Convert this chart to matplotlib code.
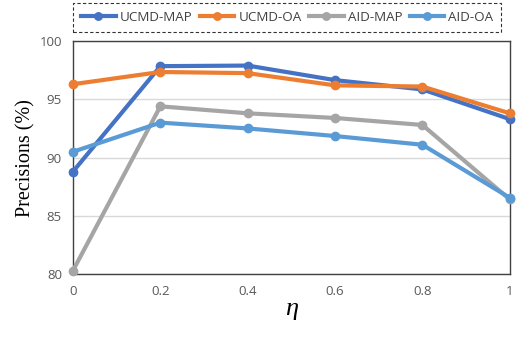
import matplotlib
matplotlib.use("Agg")
import matplotlib.pyplot as plt

eta = [0, 0.2, 0.4, 0.6, 0.8, 1]
ucmd_map = [88.8, 97.85, 97.9, 96.65, 95.85, 93.3]
ucmd_oa = [96.3, 97.35, 97.25, 96.2, 96.1, 93.8]
aid_map = [80.3, 94.4, 93.8, 93.4, 92.8, 86.4]
aid_oa = [90.5, 93.0, 92.5, 91.85, 91.1, 86.55]
labels = ["UCMD-MAP", "UCMD-OA", "AID-MAP", "AID-OA"]
colors = ["#4472C4", "#ED7D31", "#A5A5A5", "#5B9BD5"]
xticklabels = ["0", "0.2", "0.4", "0.6", "0.8", "1"]

fig = plt.figure(figsize=(5.31, 3.39), dpi=100)
ax = fig.add_axes([0.1375, 0.1917, 0.8225, 0.687])
for ys, lab, c in zip([ucmd_map, ucmd_oa, aid_map, aid_oa], labels, colors):
    ax.plot(eta, ys, color=c, lw=3, marker='o', ms=6, label=lab, clip_on=False, zorder=3)

ax.set_xlim(0, 1)
ax.set_ylim(80, 100)
ax.set_yticks([80, 85, 90, 95, 100])
ax.set_xticks(eta)
ax.set_xticklabels(xticklabels)
ax.grid(axis='y', color='#D9D9D9', lw=1)
ax.set_axisbelow(True)
for s in ax.spines.values():
    s.set_color('#404040')
    s.set_linewidth(1)
ax.tick_params(length=0, labelsize=9.5, labelcolor='#595959', pad=8)
for t in ax.get_xticklabels() + ax.get_yticklabels():
    t.set_family('Open Sans')
ax.set_ylabel("Precisions (%)", family='Liberation Serif', fontsize=14.5, labelpad=3)
ax.set_xlabel("η", family='Liberation Serif', style='italic', fontsize=19, labelpad=0)

leg = fig.legend(loc='upper left', bbox_to_anchor=(73/531, 1 - 3/339), ncol=4,
                 frameon=True, fancybox=False, edgecolor='black',
                 handlelength=2.6, handletextpad=0.3, columnspacing=0.55,
                 prop={'family': 'Open Sans', 'size': 9.6}, borderpad=0.6,
                 borderaxespad=0, numpoints=1, markerscale=0.9)
leg.get_frame().set_linestyle((0, (3, 2)))
leg.get_frame().set_linewidth(0.8)
for t in leg.get_texts():
    t.set_color('#404040')

fig.savefig("out.png", dpi=100)
